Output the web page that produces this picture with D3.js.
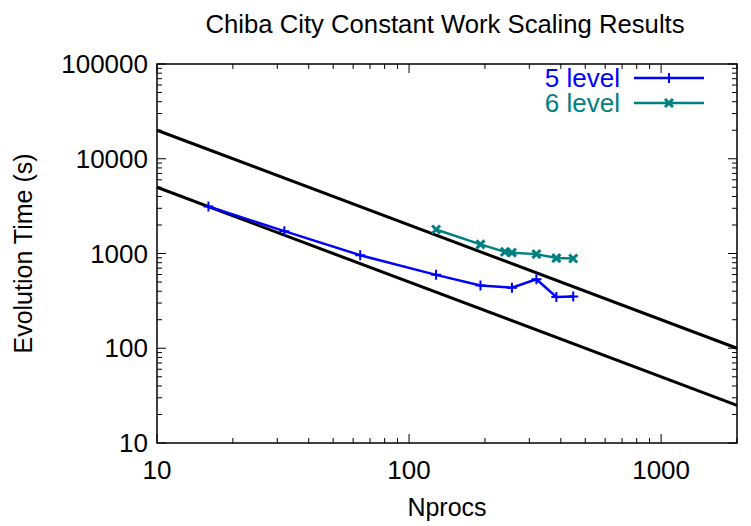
<!DOCTYPE html>
<html>
<head>
<meta charset="utf-8">
<script src="https://cdn.jsdelivr.net/npm/d3@7"></script>
<style>
  body { margin: 0; background: #fff; }
  text { font-family: "Liberation Sans", Arial, sans-serif; }
</style>
</head>
<body>
<svg width="751" height="526"></svg>
<script>
// data
let procs5 = [16, 32, 64, 128, 192, 256, 320, 384, 448];
let time5 = [3130, 1720, 960, 595, 460, 435, 535, 348, 352];
let procs6 = [128, 192, 240, 256, 320, 384, 448];
let time6 = [1790, 1250, 1040, 1020, 985, 895, 885];
// ideal scaling lines (t ~ 1/n)
let idealProcs = [10, 2000];
let idealUpper = [20000, 100];
let idealLower = [5000, 25];
let xTickLabels = [10, 100, 1000];
let yTickLabels = [10, 100, 1000, 10000, 100000];

let svg = d3.select("svg");
let pLeft = 157, pRight = 737, pTop = 64, pBottom = 443;

let xScale = d3.scaleLog().domain([10, 2000]).range([pLeft, pRight]);
let yScale = d3.scaleLog().domain([10, 100000]).range([pBottom, pTop]);

let fontSize = 26;

// title
svg.append("text")
  .attr("x", 445)
  .attr("y", 33)
  .attr("text-anchor", "middle")
  .attr("font-size", 25.7)
  .text("Chiba City Constant Work Scaling Results");

//ticks, gnuplot style: inward and mirrored
let isMajor = function(v) {
  return Math.abs(Math.log10(v) - Math.round(Math.log10(v))) < 1e-9;
};
let g = svg.append("g").attr("stroke", "#000").attr("stroke-width", 1);
xScale.ticks().forEach(function(v) {
  let len = isMajor(v) ? 9 : 5;
  let x = xScale(v);
  g.append("line").attr("x1", x).attr("x2", x).attr("y1", pBottom).attr("y2", pBottom - len);
  g.append("line").attr("x1", x).attr("x2", x).attr("y1", pTop).attr("y2", pTop + len);
});
yScale.ticks().forEach(function(v) {
  let len = isMajor(v) ? 9 : 5;
  let y = yScale(v);
  g.append("line").attr("x1", pLeft).attr("x2", pLeft + len).attr("y1", y).attr("y2", y);
  g.append("line").attr("x1", pRight).attr("x2", pRight - len).attr("y1", y).attr("y2", y);
});

// tick labels
xTickLabels.forEach(function(v) {
  svg.append("text")
    .attr("x", xScale(v))
    .attr("y", pBottom + 36)
    .attr("text-anchor", "middle")
    .attr("font-size", fontSize)
    .text(v);
});
yTickLabels.forEach(function(v) {
  svg.append("text")
    .attr("x", pLeft - 9)
    .attr("y", yScale(v))
    .attr("dy", "0.35em")
    .attr("text-anchor", "end")
    .attr("font-size", fontSize)
    .text(v);
});

// axis titles
svg.append("text")
  .attr("x", (pLeft + pRight) / 2)
  .attr("y", 516)
  .attr("text-anchor", "middle")
  .attr("font-size", 25)
  .text("Nprocs");
svg.append("text")
  .attr("transform", "translate(32," + (pTop + pBottom) / 2 + ") rotate(-90)")
  .attr("text-anchor", "middle")
  .attr("font-size", 25)
  .text("Evolution Time (s)");

let line = d3.line()
  .x(function(d) { return xScale(d[0]); })
  .y(function(d) { return yScale(d[1]); });

// ideal lines
[idealUpper, idealLower].forEach(function(ys) {
  svg.append("path")
    .attr("d", line(d3.zip(idealProcs, ys)))
    .attr("fill", "none")
    .attr("stroke", "#000")
    .attr("stroke-width", 3);
});

function plus(sel, x, y, s, color) {
  sel.append("path")
    .attr("d", "M" + (x - s) + "," + y + "H" + (x + s) + "M" + x + "," + (y - s) + "V" + (y + s))
    .attr("stroke", color).attr("stroke-width", 2);
}
function cross(sel, x, y, s, color) {
  sel.append("path")
    .attr("d", "M" + (x - s) + "," + (y - s) + "L" + (x + s) + "," + (y + s) +
      "M" + (x - s) + "," + (y + s) + "L" + (x + s) + "," + (y - s))
    .attr("stroke", color).attr("stroke-width", 3);
}

let series = [
  { name: "5 level", procs: procs5, time: time5, color: "#0000ff", marker: plus },
  { name: "6 level", procs: procs6, time: time6, color: "#008080", marker: cross }
];

series.forEach(function(s, i) {
  let pts = d3.zip(s.procs, s.time);
  svg.append("path")
    .attr("d", line(pts))
    .attr("fill", "none")
    .attr("stroke", s.color)
    .attr("stroke-width", 2.5);
  pts.forEach(function(p) {
    s.marker(svg, xScale(p[0]), yScale(p[1]), s.marker === plus ? 5 : 4, s.color);
  });
  // legend
  let ly = 78 + i * 25;
  svg.append("text")
    .attr("x", 620)
    .attr("y", ly)
    .attr("dy", "0.35em")
    .attr("text-anchor", "end")
    .attr("font-size", fontSize)
    .attr("fill", s.color)
    .text(s.name);
  svg.append("line")
    .attr("x1", 634).attr("x2", 704)
    .attr("y1", ly).attr("y2", ly)
    .attr("stroke", s.color).attr("stroke-width", 2.5);
  s.marker(svg, 669, ly, s.marker === plus ? 5 : 4, s.color);
});

// frame
svg.append("rect")
  .attr("x", pLeft).attr("y", pTop)
  .attr("width", pRight - pLeft).attr("height", pBottom - pTop)
  .attr("fill", "none")
  .attr("stroke", "#000")
  .attr("stroke-width", 1.5);
</script>
</body>
</html>
